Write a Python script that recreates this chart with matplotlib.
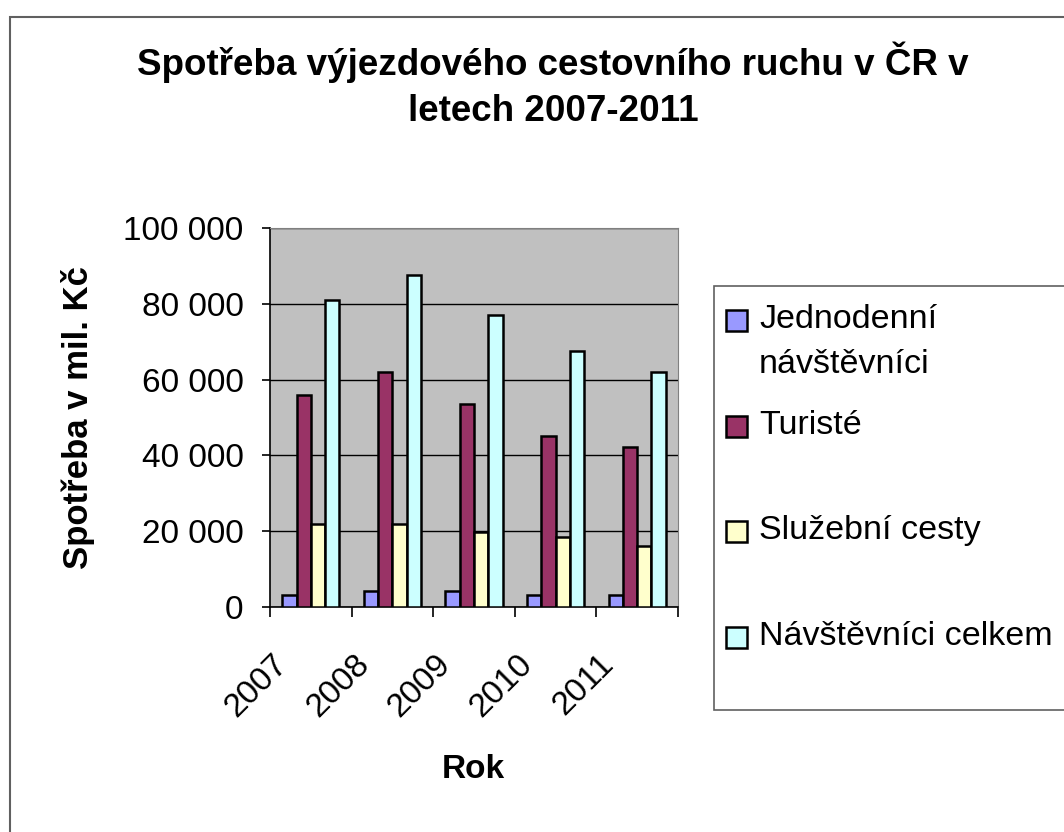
import numpy as np
import matplotlib
matplotlib.use('Agg')
from matplotlib import pyplot as plt
from matplotlib.patches import Rectangle
from matplotlib.transforms import ScaledTranslation

plt.rcParams['font.family'] = ['Liberation Sans', 'DejaVu Sans']

# data
years = ['2007', '2008', '2009', '2010', '2011']
series = ['Jednodenní\nnávštěvníci', 'Turisté', 'Služební cesty', 'Návštěvníci celkem']
jednodenni = [3100, 4100, 4100, 3100, 3100]
turiste = [56000, 61900, 53600, 45000, 42300]
sluzebni = [21900, 21900, 19800, 18500, 16000]
celkem = [81100, 87500, 77100, 67600, 61900]
colors = ['#9999FF', '#993366', '#FFFFCC', '#CCFFFF']
yticks = [0, 20000, 40000, 60000, 80000, 100000]

W, H = 1064, 832
fig = plt.figure(figsize=(W / 100, H / 100), dpi=100)

# chart area frame (runs off the right/bottom edge)
fig.patches.append(Rectangle((10 / W, -0.1), 1.2, 1 - 17 / H + 0.1, transform=fig.transFigure,
                             fill=False, edgecolor='#606060', linewidth=1.5))

ax = fig.add_axes([270 / W, 1 - 607 / H, 408 / W, 379 / H])
ax.set_facecolor('#C0C0C0')

x = np.arange(len(years))
width = 0.175
values = [jednodenni, turiste, sluzebni, celkem]
for i, (vals, c) in enumerate(zip(values, colors)):
    ax.bar(x + (i - 1.5) * width, vals, width, color=c, edgecolor='black', linewidth=1.8, zorder=3)

ax.set_xlim(-0.5, len(years) - 0.5)
ax.set_ylim(0, 100000)
ax.set_yticks(yticks)
ax.set_yticklabels([f'{v:,}'.replace(',', ' ') for v in yticks])
ax.yaxis.grid(True, color='black', linewidth=1)
ax.set_axisbelow(True)

ax.set_xticks(np.arange(-0.5, len(years)), minor=False)
ax.set_xticklabels([])
ax.set_xticks(x, minor=True)
ax.set_xticklabels(years, minor=True, rotation=45, ha='right', va='center', rotation_mode='anchor')
ax.tick_params(axis='x', which='minor', length=0, pad=14, labelsize=24)
ax.tick_params(axis='x', which='major', length=7, width=1.2)
ax.tick_params(axis='y', length=6, width=1.2, pad=13, labelsize=24)
# move rotated year labels down-left like Excel does
shift = ScaledTranslation(-28 / 100, -33 / 100, fig.dpi_scale_trans)
for lab in ax.get_xticklabels(minor=True):
    lab.set_transform(lab.get_transform() + shift)

for s in ['top', 'right']:
    ax.spines[s].set_color('#808080')
for s in ['left', 'bottom']:
    ax.spines[s].set_linewidth(1.2)

ax.set_ylabel('Spotřeba v mil. Kč', fontsize=25, fontweight='bold')
ax.yaxis.set_label_coords(-0.43, 0.5)
fig.text(473 / W, 1 - 778 / H, 'Rok', fontsize=24, fontweight='bold', ha='center', va='baseline')

fig.text(553 / W, 1 - 75 / H, 'Spotřeba výjezdového cestovního ruchu v ČR v', fontsize=26.5,
         fontweight='bold', ha='center', va='baseline')
fig.text(553 / W, 1 - 121 / H, 'letech 2007-2011', fontsize=26.5, fontweight='bold',
         ha='center', va='baseline')

# legend box
fig.patches.append(Rectangle((714 / W, 1 - 710 / H), 0.5, 424 / H, transform=fig.transFigure,
                             facecolor='white', edgecolor='#606060', linewidth=1.2))
entry_y = [320, 426, 531, 637]
for name, c, yy in zip(series, colors, entry_y):
    fig.patches.append(Rectangle((726 / W, 1 - (yy + 11) / H), 21 / W, 21 / H,
                                 transform=fig.transFigure, facecolor=c,
                                 edgecolor='black', linewidth=1.8))
    lines = name.split('\n')
    for k, line in enumerate(lines):
        fig.text(759 / W, 1 - (yy + 8 + 45 * k) / H, line, fontsize=24.5, ha='left',
                 va='baseline')

fig.savefig('out.png', dpi=100)
